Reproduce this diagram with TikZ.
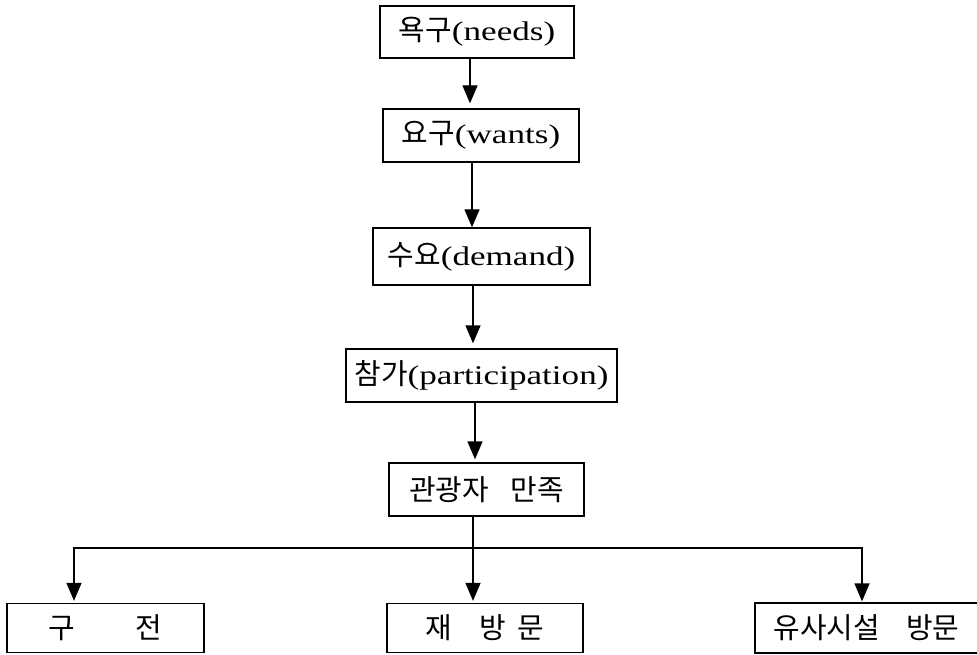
\documentclass[tikz,border=0pt]{standalone}
\usepackage{fontspec}
\setmainfont[FakeStretch=1.3]{Liberation Serif}
\newfontfamily\kr[Scale=1.07]{Noto Sans CJK KR}
\usetikzlibrary{arrows.meta}
\begin{document}
\begin{tikzpicture}[x=1pt,y=-1pt,
  box/.style={draw, line width=1.3pt, inner sep=0pt, font=\fontsize{27}{30}\selectfont},
  arr/.style={line width=1.3pt, -{Triangle[width=15pt,length=18pt]}},
  link/.style={line width=1.3pt}]
\useasboundingbox (0,0) rectangle (977,655);
% boxes
\node[box, minimum width=194pt, minimum height=52pt] (n1) at (477,32) {{\kr 욕구}(needs)};
\node[box, minimum width=196pt, minimum height=53pt] (n2) at (481,135.5) {{\kr 요구}(wants)};
\node[box, minimum width=217pt, minimum height=57pt] (n3) at (481.5,256.5) {{\kr 수요}(demand)};
\node[box, minimum width=271pt, minimum height=53pt] (n4) at (481.5,375.5) {{\kr 참가}(participation)};
\node[box, minimum width=195pt, minimum height=53pt] (n5) at (486.5,489.5) {\kr 관광자\hspace{22pt}만족};
\node[box, minimum width=197pt, minimum height=49pt] (b1) at (105.5,628) {\kr 구\hspace{60pt}전};
\node[box, minimum width=196pt, minimum height=49pt] (b2) at (485,628) {\kr 재\hspace{27pt}방\hspace{12pt}문};
\node[box, minimum width=223pt, minimum height=50pt] (b3) at (866.5,628) {\kr 유사시설\hspace{26pt}방문};
% spine coordinates
\coordinate (s1) at (470,0);
\coordinate (s2) at (472,0);
\coordinate (s3) at (473,0);
\coordinate (s4) at (475,0);
\coordinate (j) at (473,548);
\coordinate (cl) at (74,548);
\coordinate (cr) at (862,548);
% connectors
\draw[arr, shorten >=5pt] (n1.south -| s1) -- (n2.north -| s1);
\draw[arr] (n2.south -| s2) -- (n3.north -| s2);
\draw[arr, shorten >=5pt] (n3.south -| s3) -- (n4.north -| s3);
\draw[arr, shorten >=3pt] (n4.south -| s4) -- (n5.north -| s4);
\draw[arr, shorten >=2pt] (n5.south -| j) -- (b2.north -| j);
\draw[link, {Triangle[width=15pt,length=18pt]}-{Triangle[width=15pt,length=18pt]}, shorten <=2pt, shorten >=1pt]
  (b1.north -| cl) -- (cl) -- (cr) -- (b3.north -| cr);
\end{tikzpicture}
\end{document}
